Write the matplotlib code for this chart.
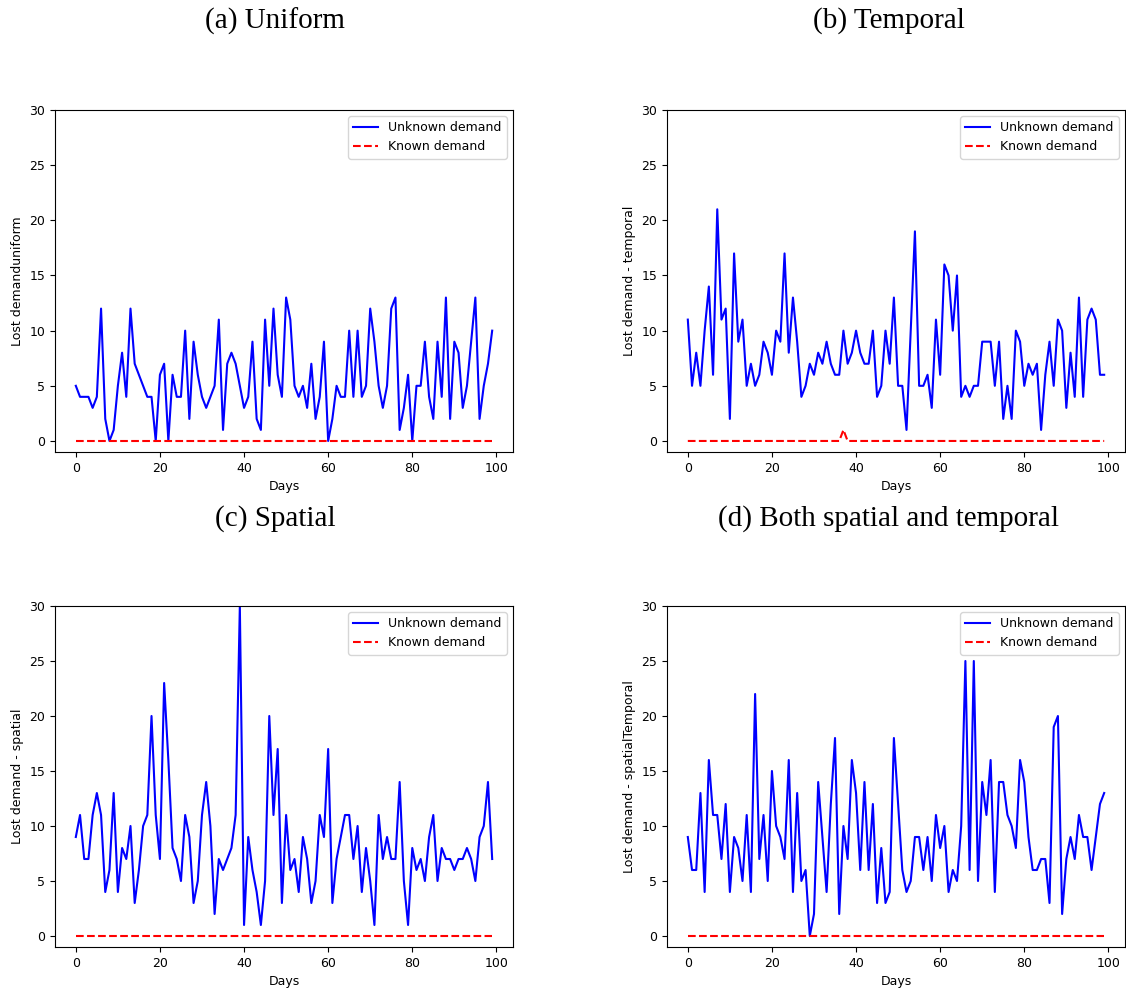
import numpy as np
import matplotlib
matplotlib.use("Agg")
import matplotlib.pyplot as plt

days = np.arange(100)

uniform_unknown = [5, 4, 4, 4, 3, 4, 12, 2, 0, 1,
                   5, 8, 4, 12, 7, 6, 5, 4, 4, 0,
                   6, 7, 0, 6, 4, 4, 10, 2, 9, 6,
                   4, 3, 4, 5, 11, 1, 7, 8, 7, 5,
                   3, 4, 9, 2, 1, 11, 5, 12, 6, 4,
                   13, 11, 5, 4, 5, 3, 7, 2, 4, 9,
                   0, 2, 5, 4, 4, 10, 4, 10, 4, 5,
                   12, 9, 5, 3, 5, 12, 13, 1, 3, 6,
                   0, 5, 5, 9, 4, 2, 9, 4, 13, 2,
                   9, 8, 3, 5, 9, 13, 2, 5, 7, 10]
uniform_known = [0] * 100

temporal_unknown = [11, 5, 8, 5, 10, 14, 6, 21, 11, 12,
                    2, 17, 9, 11, 5, 7, 5, 6, 9, 8,
                    6, 10, 9, 17, 8, 13, 9, 4, 5, 7,
                    6, 8, 7, 9, 7, 6, 6, 10, 7, 8,
                    10, 8, 7, 7, 10, 4, 5, 10, 7, 13,
                    5, 5, 1, 10, 19, 5, 5, 6, 3, 11,
                    6, 16, 15, 10, 15, 4, 5, 4, 5, 5,
                    9, 9, 9, 5, 9, 2, 5, 2, 10, 9,
                    5, 7, 6, 7, 1, 6, 9, 5, 11, 10,
                    3, 8, 4, 13, 4, 11, 12, 11, 6, 6]
temporal_known = [0] * 37 + [1] + [0] * 62

spatial_unknown = [9, 11, 7, 7, 11, 13, 11, 4, 6, 13,
                   4, 8, 7, 10, 3, 6, 10, 11, 20, 11,
                   7, 23, 16, 8, 7, 5, 11, 9, 3, 5,
                   11, 14, 10, 2, 7, 6, 7, 8, 11, 30,
                   1, 9, 6, 4, 1, 5, 20, 11, 17, 3,
                   11, 6, 7, 4, 9, 7, 3, 5, 11, 9,
                   17, 3, 7, 9, 11, 11, 7, 10, 4, 8,
                   5, 1, 11, 7, 9, 7, 7, 14, 5, 1,
                   8, 6, 7, 5, 9, 11, 5, 8, 7, 7,
                   6, 7, 7, 8, 7, 5, 9, 10, 14, 7]
spatial_known = [0] * 100

both_unknown = [9, 6, 6, 13, 4, 16, 11, 11, 7, 12,
                4, 9, 8, 5, 11, 4, 22, 7, 11, 5,
                15, 10, 9, 7, 16, 4, 13, 5, 6, 0,
                2, 14, 9, 4, 12, 18, 2, 10, 7, 16,
                13, 6, 14, 6, 12, 3, 8, 3, 4, 18,
                12, 6, 4, 5, 9, 9, 6, 9, 5, 11,
                8, 10, 4, 6, 5, 10, 25, 6, 25, 5,
                14, 11, 16, 4, 14, 14, 11, 10, 8, 16,
                14, 9, 6, 6, 7, 7, 3, 19, 20, 2,
                7, 9, 7, 11, 9, 9, 6, 9, 12, 13]
both_known = [0] * 100

titles = ["(a) Uniform", "(b) Temporal", "(c) Spatial",
          "(d) Both spatial and temporal"]
ylabels = ["Lost demanduniform", "Lost demand - temporal",
           "Lost demand - spatial", "Lost demand - spatialTemporal"]
unknown = [uniform_unknown, temporal_unknown, spatial_unknown, both_unknown]
known = [uniform_known, temporal_known, spatial_known, both_known]


def main():
    plt.rcParams['font.size'] = 9
    fig = plt.figure(figsize=(11.26, 9.9), dpi=100)

    W, H = 1126.0, 990.0
    # axes boxes in pixels: left, top, right, bottom
    boxes = [(55, 110, 513, 452), (667, 110, 1125, 452),
             (55, 606, 513, 947), (667, 606, 1125, 947)]
    title_pos = [(275, 21), (889, 21), (275, 519), (888, 519)]

    for i in range(4):
        l, t, r, b = boxes[i]
        ax = fig.add_axes([l / W, 1 - b / H, (r - l) / W, (b - t) / H])
        ax.plot(days, unknown[i], 'b-', label='Unknown demand')
        ax.plot(days, known[i], 'r--', label='Known demand')
        ax.set_ylim(-1, 30)
        ax.set_xlabel('Days')
        ax.set_ylabel(ylabels[i])
        ax.legend(loc='upper right')

        tx, ty = title_pos[i]
        fig.text(tx / W, 1 - ty / H, titles[i], ha='center', va='center',
                 fontsize=21, family='Liberation Serif')

    fig.savefig('out.png', dpi=100)


if __name__ == "__main__":
    main()
